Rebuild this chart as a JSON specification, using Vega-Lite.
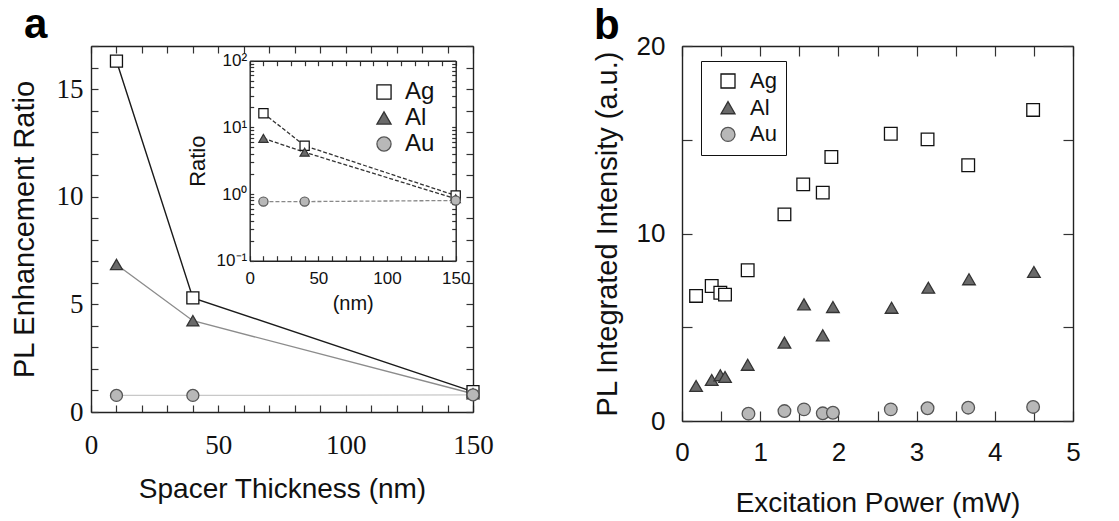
{
  "$schema": "https://vega.github.io/schema/vega-lite/v6.json",
  "padding": {"left": 10, "top": 4, "right": 5, "bottom": 5},
  "spacing": 99,
  "background": "white",
  "config": {
    "font": "Liberation Sans",
    "view": {"stroke": null},
    "axis": {"grid": false, "domainColor": "#222", "domainWidth": 1.4, "tickColor": "#333", "tickWidth": 1.2, "labelColor": "#111", "titleColor": "#111", "titleFontWeight": "normal", "labelFlush": false, "labelOverlap": false, "titleFont": "Liberation Sans", "labelFont": "Liberation Sans"}
  },
  "datasets": {
    "thick": [
      {"metal": "Ag", "nm": 10, "ratio": 16.3},
      {"metal": "Ag", "nm": 40, "ratio": 5.3},
      {"metal": "Ag", "nm": 150, "ratio": 0.95},
      {"metal": "Al", "nm": 10, "ratio": 6.85},
      {"metal": "Al", "nm": 40, "ratio": 4.24},
      {"metal": "Al", "nm": 150, "ratio": 0.85},
      {"metal": "Au", "nm": 10, "ratio": 0.77},
      {"metal": "Au", "nm": 40, "ratio": 0.77},
      {"metal": "Au", "nm": 150, "ratio": 0.8}
    ],
    "power": [
      {"metal": "Ag", "mW": 0.18, "pl": 6.67},
      {"metal": "Ag", "mW": 0.38, "pl": 7.2},
      {"metal": "Ag", "mW": 0.49, "pl": 6.84},
      {"metal": "Ag", "mW": 0.55, "pl": 6.74},
      {"metal": "Ag", "mW": 0.84, "pl": 8.04},
      {"metal": "Ag", "mW": 1.31, "pl": 11.02},
      {"metal": "Ag", "mW": 1.55, "pl": 12.62},
      {"metal": "Ag", "mW": 1.8, "pl": 12.18},
      {"metal": "Ag", "mW": 1.91, "pl": 14.08},
      {"metal": "Ag", "mW": 2.67, "pl": 15.32},
      {"metal": "Ag", "mW": 3.14, "pl": 15.02},
      {"metal": "Ag", "mW": 3.66, "pl": 13.64},
      {"metal": "Ag", "mW": 4.49, "pl": 16.59},
      {"metal": "Al", "mW": 0.18, "pl": 1.87},
      {"metal": "Al", "mW": 0.38, "pl": 2.19},
      {"metal": "Al", "mW": 0.49, "pl": 2.44},
      {"metal": "Al", "mW": 0.55, "pl": 2.35},
      {"metal": "Al", "mW": 0.84, "pl": 3.0},
      {"metal": "Al", "mW": 1.31, "pl": 4.18},
      {"metal": "Al", "mW": 1.56, "pl": 6.22},
      {"metal": "Al", "mW": 1.8, "pl": 4.57},
      {"metal": "Al", "mW": 1.93, "pl": 6.08},
      {"metal": "Al", "mW": 2.68, "pl": 6.04},
      {"metal": "Al", "mW": 3.15, "pl": 7.11},
      {"metal": "Al", "mW": 3.67, "pl": 7.56},
      {"metal": "Al", "mW": 4.5, "pl": 7.95},
      {"metal": "Au", "mW": 0.85, "pl": 0.39},
      {"metal": "Au", "mW": 1.31, "pl": 0.53},
      {"metal": "Au", "mW": 1.56, "pl": 0.62},
      {"metal": "Au", "mW": 1.8, "pl": 0.41},
      {"metal": "Au", "mW": 1.93, "pl": 0.44},
      {"metal": "Au", "mW": 2.67, "pl": 0.62},
      {"metal": "Au", "mW": 3.14, "pl": 0.68},
      {"metal": "Au", "mW": 3.66, "pl": 0.71},
      {"metal": "Au", "mW": 4.49, "pl": 0.75}
    ]
  },
  "resolve": {"scale": {"shape": "independent", "fill": "independent", "stroke": "independent"}, "legend": {"shape": "independent", "fill": "independent", "stroke": "independent"}},
  "hconcat": [
    {
      "width": 382,
      "height": 366,
      "title": {"text": "a", "anchor": "start", "frame": "bounds", "fontSize": 42, "fontWeight": "bold", "font": "Liberation Sans", "color": "#000", "offset": -15, "dx": 14},
      "resolve": {"scale": {"x": "independent", "y": "independent"}},
      "layer": [
        {
          "data": {"name": "thick"},
          "transform": [{"filter": "datum.metal === 'Au'"}],
          "mark": {"type": "line", "strokeWidth": 1.2, "stroke": "#c8c8c8"},
          "encoding": {
            "x": {"field": "nm", "type": "quantitative", "scale": {"domain": [0, 150], "nice": false},
              "axis": {"orient": "bottom", "values": [0,10,20,30,40,50,60,70,80,90,100,110,120,130,140,150], "labelExpr": "datum.value % 50 === 0 ? datum.label : ''", "tickSize": -7, "labelFont": "Liberation Serif", "labelFontSize": 27, "labelPadding": 27, "title": "Spacer Thickness (nm)", "titleFontSize": 28, "titlePadding": 17}},
            "y": {"field": "ratio", "type": "quantitative", "scale": {"domain": [0, 17], "nice": false},
              "axis": {"orient": "left", "values": [0,1,2,3,4,5,6,7,8,9,10,11,12,13,14,15,16,17], "labelExpr": "datum.value % 5 === 0 ? datum.label : ''", "tickSize": -7, "labelFont": "Liberation Serif", "labelFontSize": 27, "labelPadding": 15, "title": "PL Enhancement Ratio", "titleFontSize": 29, "titlePadding": 17}}
          }
        },
        {
          "data": {"name": "thick"},
          "transform": [{"filter": "datum.metal === 'Al'"}],
          "mark": {"type": "line", "strokeWidth": 1.4, "stroke": "#8c8c8c"},
          "encoding": {
            "x": {"field": "nm", "type": "quantitative", "scale": {"domain": [0, 150], "nice": false}, "axis": null},
            "y": {"field": "ratio", "type": "quantitative", "scale": {"domain": [0, 17], "nice": false}, "axis": null}
          }
        },
        {
          "data": {"name": "thick"},
          "transform": [{"filter": "datum.metal === 'Ag'"}],
          "mark": {"type": "line", "strokeWidth": 1.4, "stroke": "#1a1a1a"},
          "encoding": {
            "x": {"field": "nm", "type": "quantitative", "scale": {"domain": [0, 150], "nice": false}, "axis": null},
            "y": {"field": "ratio", "type": "quantitative", "scale": {"domain": [0, 17], "nice": false}, "axis": null}
          }
        },
        {
          "data": {"name": "thick"},
          "mark": {"type": "point", "filled": true, "size": 144, "strokeWidth": 1.3, "opacity": 1},
          "encoding": {
            "x": {"field": "nm", "type": "quantitative", "scale": {"domain": [0, 150], "nice": false}, "axis": null},
            "y": {"field": "ratio", "type": "quantitative", "scale": {"domain": [0, 17], "nice": false}, "axis": null},
            "shape": {"field": "metal", "type": "nominal", "scale": {"domain": ["Ag", "Al", "Au"], "range": ["square", "triangle-up", "circle"]},
              "legend": {"orient": "none", "legendX": 281, "legendY": 34, "title": null, "symbolSize": 200, "symbolStrokeWidth": 1.3, "labelFontSize": 24, "labelColor": "#111", "rowPadding": 2, "labelOffset": 9, "padding": 0}},
            "fill": {"field": "metal", "type": "nominal", "scale": {"domain": ["Ag", "Al", "Au"], "range": ["#ffffff", "#6a6a6a", "#b8b8b8"]},
              "legend": {"orient": "none", "legendX": 281, "legendY": 34, "title": null, "symbolSize": 200, "symbolStrokeWidth": 1.3, "labelFontSize": 24, "labelColor": "#111", "rowPadding": 2, "labelOffset": 9, "padding": 0}},
            "stroke": {"field": "metal", "type": "nominal", "scale": {"domain": ["Ag", "Al", "Au"], "range": ["#111111", "#333333", "#555555"]},
              "legend": {"orient": "none", "legendX": 281, "legendY": 34, "title": null, "symbolSize": 200, "symbolStrokeWidth": 1.3, "labelFontSize": 24, "labelColor": "#111", "rowPadding": 2, "labelOffset": 9, "padding": 0}}
          }
        },
        {
          "data": {"name": "thick"},
          "mark": {"type": "point", "opacity": 0},
          "encoding": {
            "x": {"field": "nm", "type": "quantitative", "scale": {"domain": [0, 150], "nice": false},
              "axis": {"orient": "top", "values": [0,10,20,30,40,50,60,70,80,90,100,110,120,130,140,150], "labels": false, "title": null, "tickSize": -7}},
            "y": {"field": "ratio", "type": "quantitative", "scale": {"domain": [0, 17], "nice": false},
              "axis": {"orient": "right", "values": [0,1,2,3,4,5,6,7,8,9,10,11,12,13,14,15,16,17], "labels": false, "title": null, "tickSize": -7}}
          }
        },
        {
          "data": {"name": "thick"},
          "transform": [{"filter": "datum.metal !== 'Au'"}],
          "mark": {"type": "line", "stroke": "#333", "strokeWidth": 1.3, "strokeDash": [4, 2]},
          "encoding": {
            "x": {"field": "nm", "type": "quantitative", "scale": {"domain": [0, 150], "range": [158.7, 364.7], "nice": false},
              "axis": {"orient": "bottom", "offset": -151.3, "values": [0,10,20,30,40,50,60,70,80,90,100,110,120,130,140,150], "labelExpr": "datum.value % 50 === 0 ? datum.label : ''", "tickSize": -5, "labelFontSize": 17, "labelPadding": 15, "title": "(nm)", "titleFontSize": 20, "titlePadding": 7}},
            "y": {"field": "ratio", "type": "quantitative", "scale": {"type": "log", "domain": [0.1, 100], "range": [214.7, 14.7], "nice": false},
              "axis": {"orient": "left", "offset": -158.7, "values": [0.1,0.2,0.3,0.4,0.5,0.6,0.7,0.8,0.9,1,2,3,4,5,6,7,8,9,10,20,30,40,50,60,70,80,90,100], "labelExpr": "datum.value === 100 ? '10²' : datum.value === 10 ? '10¹' : datum.value === 1 ? '10⁰' : abs(datum.value - 0.1) < 0.000001 ? '10⁻¹' : ''", "tickSize": -4, "labelFontSize": 17, "labelPadding": 7, "title": "Ratio", "titleFontSize": 22, "titlePadding": 7}},
            "detail": {"field": "metal", "type": "nominal"}
          }
        },
        {
          "data": {"name": "thick"},
          "transform": [{"filter": "datum.metal === 'Au'"}],
          "mark": {"type": "line", "stroke": "#888", "strokeWidth": 1.3, "strokeDash": [4, 2]},
          "encoding": {
            "x": {"field": "nm", "type": "quantitative", "scale": {"domain": [0, 150], "range": [158.7, 364.7], "nice": false}, "axis": null},
            "y": {"field": "ratio", "type": "quantitative", "scale": {"type": "log", "domain": [0.1, 100], "range": [214.7, 14.7], "nice": false}, "axis": null}
          }
        },
        {
          "data": {"name": "thick"},
          "mark": {"type": "point", "filled": true, "size": 85, "strokeWidth": 1.2, "opacity": 1},
          "encoding": {
            "x": {"field": "nm", "type": "quantitative", "scale": {"domain": [0, 150], "range": [158.7, 364.7], "nice": false}, "axis": null},
            "y": {"field": "ratio", "type": "quantitative", "scale": {"type": "log", "domain": [0.1, 100], "range": [214.7, 14.7], "nice": false}, "axis": null},
            "shape": {"field": "metal", "type": "nominal", "scale": {"domain": ["Ag", "Al", "Au"], "range": ["square", "triangle-up", "circle"]},
              "legend": {"orient": "none", "legendX": 281, "legendY": 34, "title": null, "symbolSize": 200, "symbolStrokeWidth": 1.3, "labelFontSize": 24, "labelColor": "#111", "rowPadding": 2, "labelOffset": 9, "padding": 0}},
            "fill": {"field": "metal", "type": "nominal", "scale": {"domain": ["Ag", "Al", "Au"], "range": ["#ffffff", "#6a6a6a", "#b8b8b8"]},
              "legend": {"orient": "none", "legendX": 281, "legendY": 34, "title": null, "symbolSize": 200, "symbolStrokeWidth": 1.3, "labelFontSize": 24, "labelColor": "#111", "rowPadding": 2, "labelOffset": 9, "padding": 0}},
            "stroke": {"field": "metal", "type": "nominal", "scale": {"domain": ["Ag", "Al", "Au"], "range": ["#111111", "#333333", "#555555"]},
              "legend": {"orient": "none", "legendX": 281, "legendY": 34, "title": null, "symbolSize": 200, "symbolStrokeWidth": 1.3, "labelFontSize": 24, "labelColor": "#111", "rowPadding": 2, "labelOffset": 9, "padding": 0}}
          }
        },
        {
          "data": {"name": "thick"},
          "mark": {"type": "point", "opacity": 0},
          "encoding": {
            "x": {"field": "nm", "type": "quantitative", "scale": {"domain": [0, 150], "range": [158.7, 364.7], "nice": false},
              "axis": {"orient": "top", "offset": -14.7, "values": [0,10,20,30,40,50,60,70,80,90,100,110,120,130,140,150], "labels": false, "title": null, "tickSize": -5}},
            "y": {"field": "ratio", "type": "quantitative", "scale": {"type": "log", "domain": [0.1, 100], "range": [214.7, 14.7], "nice": false},
              "axis": {"orient": "right", "offset": -17.3, "values": [0.1,0.2,0.3,0.4,0.5,0.6,0.7,0.8,0.9,1,2,3,4,5,6,7,8,9,10,20,30,40,50,60,70,80,90,100], "labels": false, "title": null, "tickSize": -4}}
          }
        }
      ]
    },
    {
      "width": 391,
      "height": 375,
      "title": {"text": "b", "anchor": "start", "frame": "bounds", "fontSize": 42, "fontWeight": "bold", "font": "Liberation Sans", "color": "#000", "offset": -15, "dx": 1},
      "resolve": {"axis": {"x": "independent", "y": "independent"}},
      "layer": [
        {
          "data": {"name": "power"},
          "mark": {"type": "point", "filled": true, "size": 160, "strokeWidth": 1.3, "opacity": 1},
          "encoding": {
            "x": {"field": "mW", "type": "quantitative", "scale": {"domain": [0, 5], "nice": false},
              "axis": {"orient": "bottom", "values": [0,0.5,1,1.5,2,2.5,3,3.5,4,4.5,5], "labelExpr": "datum.value % 1 === 0 ? format(datum.value, 'd') : ''", "tickSize": -10, "labelFontSize": 26, "labelPadding": 28, "title": "Excitation Power (mW)", "titleFontSize": 28, "titlePadding": 24}},
            "y": {"field": "pl", "type": "quantitative", "scale": {"domain": [0, 20], "nice": false},
              "axis": {"orient": "left", "values": [0,5,10,15,20], "labelExpr": "datum.value % 10 === 0 ? format(datum.value, 'd') : ''", "tickSize": -10, "labelFontSize": 26, "labelPadding": 27, "title": "PL Integrated Intensity (a.u.)", "titleFontSize": 29, "titlePadding": 14}},
            "shape": {"field": "metal", "type": "nominal", "scale": {"domain": ["Ag", "Al", "Au"], "range": ["square", "triangle-up", "circle"]},
              "legend": {"orient": "none", "legendX": 19, "legendY": 15, "title": null, "strokeColor": "#111", "padding": 9, "symbolOffset": 7, "symbolSize": 196, "symbolStrokeWidth": 1.3, "labelFontSize": 22, "labelColor": "#111", "rowPadding": 4.7, "labelOffset": 11}},
            "fill": {"field": "metal", "type": "nominal", "scale": {"domain": ["Ag", "Al", "Au"], "range": ["#ffffff", "#6a6a6a", "#b8b8b8"]},
              "legend": {"orient": "none", "legendX": 19, "legendY": 15, "title": null, "strokeColor": "#111", "padding": 9, "symbolOffset": 7, "symbolSize": 196, "symbolStrokeWidth": 1.3, "labelFontSize": 22, "labelColor": "#111", "rowPadding": 4.7, "labelOffset": 11}},
            "stroke": {"field": "metal", "type": "nominal", "scale": {"domain": ["Ag", "Al", "Au"], "range": ["#111111", "#333333", "#555555"]},
              "legend": {"orient": "none", "legendX": 19, "legendY": 15, "title": null, "strokeColor": "#111", "padding": 9, "symbolOffset": 7, "symbolSize": 196, "symbolStrokeWidth": 1.3, "labelFontSize": 22, "labelColor": "#111", "rowPadding": 4.7, "labelOffset": 11}}
          }
        },
        {
          "data": {"name": "power"},
          "mark": {"type": "point", "opacity": 0},
          "encoding": {
            "x": {"field": "mW", "type": "quantitative", "scale": {"domain": [0, 5], "nice": false},
              "axis": {"orient": "top", "values": [0,0.5,1,1.5,2,2.5,3,3.5,4,4.5,5], "labels": false, "title": null, "tickSize": -10}},
            "y": {"field": "pl", "type": "quantitative", "scale": {"domain": [0, 20], "nice": false},
              "axis": {"orient": "right", "values": [0,5,10,15,20], "labels": false, "title": null, "tickSize": -10}}
          }
        }
      ]
    }
  ]
}
